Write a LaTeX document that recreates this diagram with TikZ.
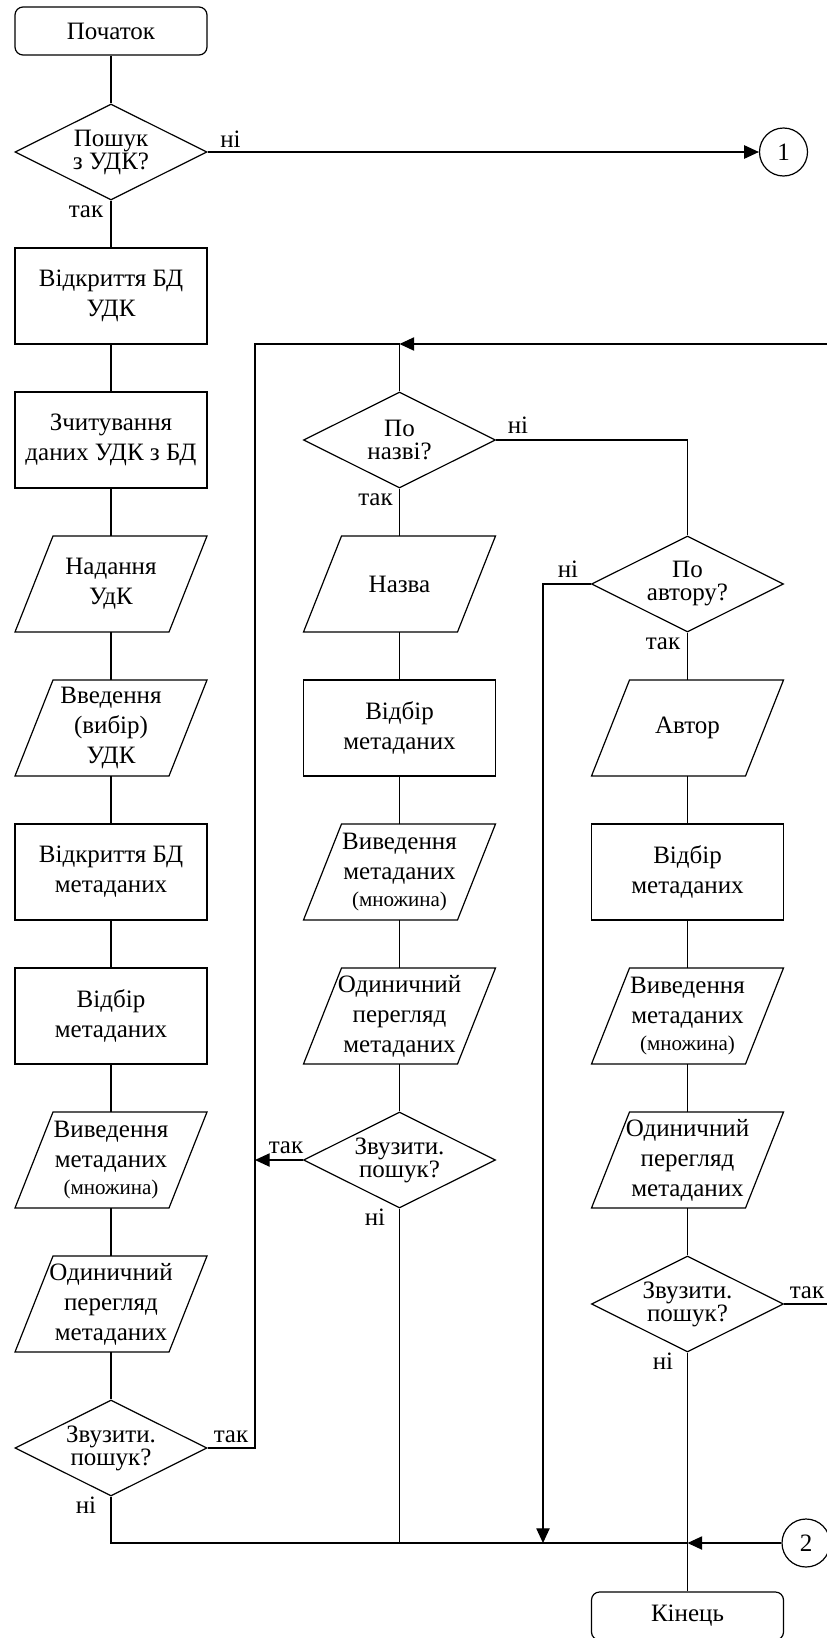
\documentclass[tikz,border=0pt]{standalone}
\usepackage{fontspec}
\setmainfont{Liberation Serif}
\usetikzlibrary{arrows.meta,shapes.geometric}

\begin{document}
\begin{tikzpicture}[x=0.75pt,y=-0.75pt,
  every node/.style={font=\fontsize{18.75}{22.5}\selectfont},
  shapeline/.style={line width=0.9pt},
  flow/.style={line width=0.9pt},
  arr/.style={flow,-{Triangle[length=11pt,width=10pt]}},
  term/.style={draw,shapeline,rounded corners=6pt,minimum width=144pt,minimum height=36pt,inner sep=0pt},
  proc/.style={draw,shapeline,minimum width=144pt,minimum height=72pt,inner sep=0pt,align=center},
  iobox/.style={minimum width=144pt,minimum height=72pt,inner sep=0pt,outer sep=0pt,align=center},
  decision/.style={draw,shapeline,diamond,aspect=2,minimum width=144pt,minimum height=72pt,inner sep=0pt},
  dtext/.style={align=center,inner sep=0pt,font=\fontsize{18.75}{17.25}\selectfont},
  connector/.style={draw,shapeline,circle,minimum size=36pt,inner sep=0pt},
  lbl/.style={inner sep=0pt,anchor=base},
  small/.style={font=\fontsize{15.75}{18}\selectfont}
]
\useasboundingbox (0,0) rectangle (827,1638);

% ---------- column 1 ----------
\node[term] (start) at (111,31) {Початок};
\node[decision] (d1) at (111,152) {};
\node[dtext] (d1t) at (d1) {Пошук\\з УДК?};
\node[proc] (b1) at (111,296) {Відкриття БД\\УДК};
\node[proc] (b2) at (111,440) {Зчитування\\даних УДК з БД};
\node[iobox] (p1) at (111,584) {Надання\\УдК};
\node[iobox] (p2) at (111,728) {Введення\\(вибір)\\УДК};
\node[proc] (b3) at (111,872) {Відкриття БД\\метаданих};
\node[proc] (b4) at (111,1016) {Відбір\\метаданих};
\node[iobox] (p3) at (111,1160) {Виведення\\метаданих\\[-2.25pt]{\fontsize{15.75}{18}\selectfont(множина)}};
\node[iobox] (p4) at (111,1304) {Одиничний\\перегляд\\метаданих};
\node[decision] (d2) at (111,1448) {};
\node[dtext] (d2t) at (d2) {Звузити.\\пошук?};

% ---------- column 2 ----------
\node[decision] (d3) at (399.5,440) {};
\node[dtext] (d3t) at (d3) {По\\назві?};
\node[iobox] (p5) at (399.5,584) {Назва};
\node[proc] (b5) at (399.5,728) {Відбір\\метаданих};
\node[iobox] (p6) at (399.5,872) {Виведення\\метаданих\\[-2.25pt]{\fontsize{15.75}{18}\selectfont(множина)}};
\node[iobox] (p7) at (399.5,1016) {Одиничний\\перегляд\\метаданих};
\node[decision] (d5) at (399.5,1160) {};
\node[dtext] (d5t) at (d5) {Звузити.\\пошук?};

% ---------- column 3 ----------
\node[decision] (d4) at (687.5,584) {};
\node[dtext] (d4t) at (d4) {По\\автору?};
\node[iobox] (p8) at (687.5,728) {Автор};
\node[proc] (b6) at (687.5,872) {Відбір\\метаданих};
\node[iobox] (p9) at (687.5,1016) {Виведення\\метаданих\\[-2.25pt]{\fontsize{15.75}{18}\selectfont(множина)}};
\node[iobox] (p10) at (687.5,1160) {Одиничний\\перегляд\\метаданих};
\node[decision] (d6) at (687.5,1304) {};
\node[dtext] (d6t) at (d6) {Звузити.\\пошук?};
\node[term] (end) at (687.5,1616) {Кінець};

% ---------- off-page connectors ----------
\node[connector] (con1) at (783.5,152) {1};
\node[connector] (con2) at (806,1543) {2};

% input/output blocks drawn as parallelograms
\foreach \n in {p1,p2,p3,p4,p5,p6,p7,p8,p9,p10}
  \draw[shapeline] ([xshift=28.5pt]\n.north west) -- (\n.north east)
    -- ([xshift=-28.5pt]\n.south east) -- (\n.south west) -- cycle;

% ---------- helper coordinates ----------
\coordinate (loopL) at (255,344);
\coordinate (loopJ) at (399.5,344);
\coordinate (rgtT) at (840,344);
\coordinate (rgtB) at (840,1304);
\coordinate (nlane) at (543,584);
\coordinate (bus) at (0,1543);

% ---------- connectors ----------
\draw[flow] (start) -- (d1);
\draw[arr] (d1.east) -- (con1.west);
\draw[flow] (d1) -- (b1);
\draw[flow] (b1) -- (b2);
\draw[flow] (b2) -- (p1);
\draw[flow] (p1) -- (p2);
\draw[flow] (p2) -- (b3);
\draw[flow] (b3) -- (b4);
\draw[flow] (b4) -- (p3);
\draw[flow] (p3) -- (p4);
\draw[flow] (p4) -- (d2);

\draw[flow] (d2.east) -| (loopL) -- (loopJ);
\draw[arr] (d6.east) -- (rgtB) -- (rgtT) -- (loopJ);
\draw[flow] (loopJ) -- (d3.north);

\draw[flow] (d3.east) -| (d4.north);
\draw[flow] (d3) -- (p5);
\draw[flow] (p5) -- (b5);
\draw[flow] (b5) -- (p6);
\draw[flow] (p6) -- (p7);
\draw[flow] (p7) -- (d5);
\draw[arr] (d5.west) -- (d5.west -| loopL);

\draw[flow] (d4) -- (p8);
\draw[flow] (p8) -- (b6);
\draw[flow] (b6) -- (p9);
\draw[flow] (p9) -- (p10);
\draw[flow] (p10) -- (d6);
\draw[arr] (d4.west) -- (nlane) -- (nlane |- bus);

\draw[flow] (d2.south) |- (d6.south |- bus);
\draw[flow] (d5.south) -- (d5.south |- bus);
\draw[arr] (con2.west) -- (d6.south |- bus);
\draw[flow] (d6.south) -- (end.north);

% ---------- branch labels ----------
\node[lbl] (l1n) at (230.5,147) {ні};
\node[lbl] (l1t) at (86,217) {так};
\node[lbl] (l3n) at (518,433) {ні};
\node[lbl] (l3t) at (375.5,505) {так};
\node[lbl] (l4n) at (568,577) {ні};
\node[lbl] (l4t) at (663,649) {так};
\node[lbl] (l5t) at (286,1153) {так};
\node[lbl] (l5n) at (375,1225) {ні};
\node[lbl] (l6t) at (807,1298) {так};
\node[lbl] (l6n) at (663,1369) {ні};
\node[lbl] (l2t) at (231,1442) {так};
\node[lbl] (l2n) at (86,1513) {ні};
\end{tikzpicture}
\end{document}
